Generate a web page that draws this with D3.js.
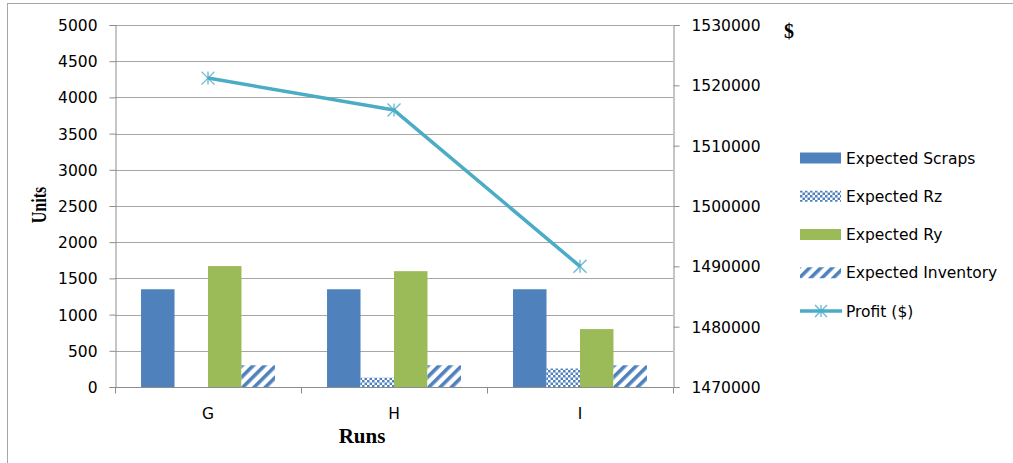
<!DOCTYPE html>
<html>
<head>
<meta charset="utf-8">
<script src="https://cdn.jsdelivr.net/npm/d3@7"></script>
<style>
  html, body { margin: 0; padding: 0; background: #fff; }
  svg { display: block; }
  text { font-family: "DejaVu Sans", sans-serif; fill: #000; }
</style>
</head>
<body>
<svg id="chart" width="1013" height="463"></svg>
<script>
// Runs and their expected quantities (units, left axis) and profit ($, right axis)
const categories = ["G", "H", "I"];
const expectedScraps = [1350, 1350, 1350];
const expectedRz = [0, 130, 255];
const expectedRy = [1670, 1600, 800];
const expectedInventory = [300, 300, 300];
const profit = [1521200, 1515900, 1490000];

const unitTicks = [0, 500, 1000, 1500, 2000, 2500, 3000, 3500, 4000, 4500, 5000];
const profitTicks = [1470000, 1480000, 1490000, 1500000, 1510000, 1520000, 1530000];

const seriesNames = ["Expected Scraps", "Expected Rz", "Expected Ry", "Expected Inventory"];
const seriesValues = [expectedScraps, expectedRz, expectedRy, expectedInventory];

const blue = "#4f81bd", green = "#9bbb59", aqua = "#4bacc6";
const gridColor = "#a6a6a6", axisColor = "#8c8c8c";
const labelSize = "15.5px";

const svg = d3.select("#chart");
const plot = { left: 115, right: 673, top: 25, bottom: 387 };

// patterns for the two textured series
const defs = svg.append("defs");
const checker = defs.append("pattern").attr("id", "checker")
  .attr("patternUnits", "userSpaceOnUse").attr("width", 5).attr("height", 5);
checker.append("rect").attr("width", 5).attr("height", 5).attr("fill", "#fff");
checker.append("rect").attr("width", 2.5).attr("height", 2.5).attr("fill", blue);
checker.append("rect").attr("x", 2.5).attr("y", 2.5).attr("width", 2.5).attr("height", 2.5).attr("fill", blue);

const hatch = defs.append("pattern").attr("id", "hatch")
  .attr("patternUnits", "userSpaceOnUse").attr("width", 8).attr("height", 8)
  .attr("patternTransform", "rotate(45)");
hatch.append("rect").attr("width", 8).attr("height", 8).attr("fill", "#fff");
hatch.append("rect").attr("width", 3.6).attr("height", 8).attr("fill", blue);

const fills = [blue, "url(#checker)", green, "url(#hatch)"];

// chart frame
svg.append("rect").attr("x", 7.5).attr("y", 3.5).attr("width", 1020).attr("height", 470)
  .attr("fill", "none").attr("stroke", "#a6a6a6");

// scales
const x0 = d3.scaleBand().domain(categories).range([plot.left, plot.right])
  .paddingInner(0.28).paddingOuter(0.14);
const x1 = d3.scaleBand().domain(seriesNames).range([0, x0.bandwidth()]);
const xStep = d3.scaleBand().domain(categories).range([plot.left, plot.right]);
const yUnits = d3.scaleLinear().domain([0, 5000]).range([plot.bottom, plot.top]);
const yProfit = d3.scaleLinear().domain([1470000, 1530000]).range([plot.bottom, plot.top]);

// gridlines
svg.append("g").selectAll("line").data(unitTicks.slice(1)).join("line")
  .attr("x1", plot.left).attr("x2", plot.right)
  .attr("y1", d => Math.round(yUnits(d)) + 0.5).attr("y2", d => Math.round(yUnits(d)) + 0.5)
  .attr("stroke", gridColor).attr("stroke-width", 1);

// bars
const groups = svg.append("g").selectAll("g").data(categories).join("g")
  .attr("transform", d => `translate(${x0(d)},0)`);
groups.selectAll("rect")
  .data((c, i) => seriesNames.map((s, k) => ({ s, k, v: seriesValues[k][i] })))
  .join("rect")
  .attr("x", d => x1(d.s))
  .attr("width", x1.bandwidth())
  .attr("y", d => yUnits(d.v))
  .attr("height", d => yUnits(0) - yUnits(d.v))
  .attr("fill", d => fills[d.k]);

// left axis
const leftAxis = d3.axisLeft(yUnits).tickValues(unitTicks).tickSize(6).tickPadding(12)
  .tickFormat(d3.format("d"));
const gl = svg.append("g").attr("transform", `translate(${plot.left + 0.5},0)`).call(leftAxis);
gl.selectAll("text").style("font-size", labelSize).attr("dy", "0.36em");

// right axis
const rightAxis = d3.axisRight(yProfit).tickValues(profitTicks).tickSize(6).tickPadding(12)
  .tickFormat(d3.format("d"));
const gr = svg.append("g").attr("transform", `translate(${plot.right + 0.5},0)`).call(rightAxis);
gr.selectAll("text").style("font-size", labelSize).attr("dy", "0.36em");

// bottom axis with tick marks between categories
const gb = svg.append("g").attr("transform", `translate(0,${plot.bottom + 0.5})`);
gb.append("line").attr("x1", plot.left).attr("x2", plot.right).attr("stroke", axisColor);
gb.selectAll("line.tk").data(categories.concat(["end"])).join("line").attr("class", "tk")
  .attr("x1", (d, i) => Math.round(i < categories.length ? xStep(d) : plot.right) + 0.5)
  .attr("x2", (d, i) => Math.round(i < categories.length ? xStep(d) : plot.right) + 0.5)
  .attr("y1", 0).attr("y2", 6).attr("stroke", axisColor);
gb.selectAll("text").data(categories).join("text")
  .attr("x", d => xStep(d) + xStep.bandwidth() / 2)
  .attr("y", 31).attr("text-anchor", "middle").style("font-size", labelSize).text(d => d);

[gl, gr].forEach(g => {
  g.select(".domain").attr("stroke", axisColor);
  g.selectAll(".tick line").attr("stroke", axisColor);
  g.selectAll("text").attr("fill", "#000");
});

// profit line with star markers
const px = (d, i) => xStep(categories[i]) + xStep.bandwidth() / 2;
const line = d3.line().x(px).y(d => yProfit(d));
svg.append("path").datum(profit).attr("d", line)
  .attr("fill", "none").attr("stroke", aqua).attr("stroke-width", 3.5).attr("stroke-linejoin", "round");

function star(g, cx, cy, r) {
  const segs = [[-r, -r, r, r], [-r, r, r, -r], [0, -r, 0, r]];
  g.selectAll(null).data(segs).join("line")
    .attr("x1", s => cx + s[0]).attr("y1", s => cy + s[1])
    .attr("x2", s => cx + s[2]).attr("y2", s => cy + s[3])
    .attr("stroke", aqua).attr("stroke-width", 1.3).attr("opacity", 0.85);
}
const markers = svg.append("g");
profit.forEach((d, i) => star(markers.append("g"), px(d, i), yProfit(d), 6.5));

// axis titles
svg.append("text").attr("transform", "translate(46,205) scale(1.35,1) rotate(-90)")
  .attr("text-anchor", "middle")
  .style("font-family", "'Liberation Serif', 'Times New Roman', serif")
  .style("font-weight", "bold").style("font-size", "16px").text("Units");
svg.append("text").attr("x", 362).attr("y", 443).attr("text-anchor", "middle")
  .style("font-family", "'Liberation Serif', 'Times New Roman', serif")
  .style("font-weight", "bold").style("font-size", "21px").text("Runs");
svg.append("text").attr("x", 789).attr("y", 38).attr("text-anchor", "middle")
  .style("font-family", "'Liberation Serif', 'Times New Roman', serif")
  .style("font-weight", "bold").style("font-size", "20px").text("$");

// legend
const legendNames = seriesNames.concat(["Profit ($)"]);
const legendY = d3.scalePoint().domain(legendNames).range([158, 311]);
const lg = svg.append("g");
legendNames.forEach((name, k) => {
  const y = legendY(name);
  if (k < 4) {
    lg.append("rect").attr("x", 800).attr("y", y - 5.5).attr("width", 41).attr("height", 11)
      .attr("fill", fills[k]);
  } else {
    lg.append("line").attr("x1", 800).attr("x2", 842).attr("y1", y).attr("y2", y)
      .attr("stroke", aqua).attr("stroke-width", 3.5);
    star(lg.append("g"), 821, y, 6);
  }
  lg.append("text").attr("x", 846).attr("y", y).attr("dy", "0.36em")
    .style("font-size", labelSize).text(name);
});
</script>
</body>
</html>
